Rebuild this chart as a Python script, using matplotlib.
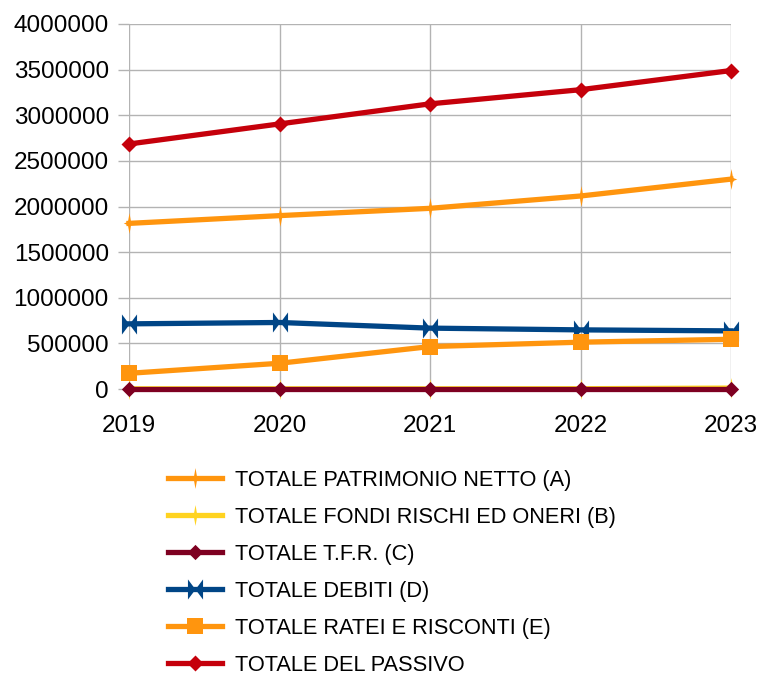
import matplotlib
matplotlib.use("Agg")
import matplotlib.pyplot as plt
from matplotlib.path import Path

plt.rcParams['font.family'] = ['Liberation Sans', 'DejaVu Sans']

years = ["2019", "2020", "2021", "2022", "2023"]

patrimonio_netto = [1815000, 1900000, 1980000, 2115000, 2300000]
fondi_rischi = [2000, 2000, 2000, 3000, 10000]
tfr = [0, 0, 0, 0, 0]
debiti = [714000, 729000, 667000, 648000, 637000]
ratei_risconti = [172000, 282000, 465000, 513000, 545000]
totale_passivo = [2685000, 2905000, 3125000, 3280000, 3490000]

labels = [
    "TOTALE PATRIMONIO NETTO (A)",
    "TOTALE FONDI RISCHI ED ONERI (B)",
    "TOTALE T.F.R. (C)",
    "TOTALE DEBITI (D)",
    "TOTALE RATEI E RISCONTI (E)",
    "TOTALE DEL PASSIVO",
]
colors = ["#ff950e", "#ffd320", "#7e0021", "#004586", "#ff950e", "#c5000b"]

# marker shapes
star = Path([(0, 1), (0.15, 0.15), (0.55, 0), (0.15, -0.15), (0, -1),
             (-0.15, -0.15), (-0.55, 0), (-0.15, 0.15), (0, 1)],
            [Path.MOVETO] + [Path.LINETO] * 7 + [Path.CLOSEPOLY])
diamond = Path([(0, 1), (1, 0), (0, -1), (-1, 0), (0, 1)],
               [Path.MOVETO] + [Path.LINETO] * 3 + [Path.CLOSEPOLY])
bowtie = Path([(-0.75, -1), (-0.75, 1), (0, 0), (0.75, 1), (0.75, -1), (0, 0), (-0.75, -1)],
              [Path.MOVETO] + [Path.LINETO] * 5 + [Path.CLOSEPOLY])
square = Path([(-1, -1), (1, -1), (1, 1), (-1, 1), (-1, -1)],
              [Path.MOVETO] + [Path.LINETO] * 3 + [Path.CLOSEPOLY])

markers = [star, star, diamond, bowtie, square, diamond]
msizes = [15, 15, 11, 14.5, 11.5, 11.5]

series = [patrimonio_netto, fondi_rischi, tfr, debiti, ratei_risconti, totale_passivo]

fig = plt.figure(figsize=(7.58, 6.75), dpi=100)
ax = fig.add_axes([129 / 758, 1 - 389 / 675, 602 / 758, 365 / 675])

x = list(range(len(years)))
handles = []
for vals, lab, col, mk, ms in zip(series, labels, colors, markers, msizes):
    h, = ax.plot(x, vals, color=col, lw=3.8, marker=mk, markersize=ms,
                 markerfacecolor=col, markeredgecolor=col, markeredgewidth=0,
                 label=lab, clip_on=False, solid_joinstyle='round')
    handles.append(h)

ax.set_xlim(0, len(years) - 1)
ax.set_ylim(0, 4000000)
ax.set_xticks(x)
ax.set_xticklabels(years)
ax.set_yticks(range(0, 4000001, 500000))
ax.set_yticklabels([str(v) for v in range(0, 4000001, 500000)])

grid_col = "#b3b3b3"
ax.grid(True, color=grid_col, lw=1.0)
ax.set_axisbelow(True)
for s in ax.spines.values():
    s.set_visible(False)
ax.tick_params(axis='y', length=8, width=1.0, color=grid_col, pad=6.5, labelsize=17.5)
ax.tick_params(axis='x', length=0, pad=19, labelsize=17.5)

fig.legend(handles=handles, labels=labels, loc='upper left',
           bbox_to_anchor=(167.5 / 758, 1 - 470 / 675), frameon=False,
           fontsize=15.7, handlelength=2.52, handletextpad=0.57,
           labelspacing=0.73, borderpad=0, borderaxespad=0)

fig.savefig("out.png", dpi=100)
